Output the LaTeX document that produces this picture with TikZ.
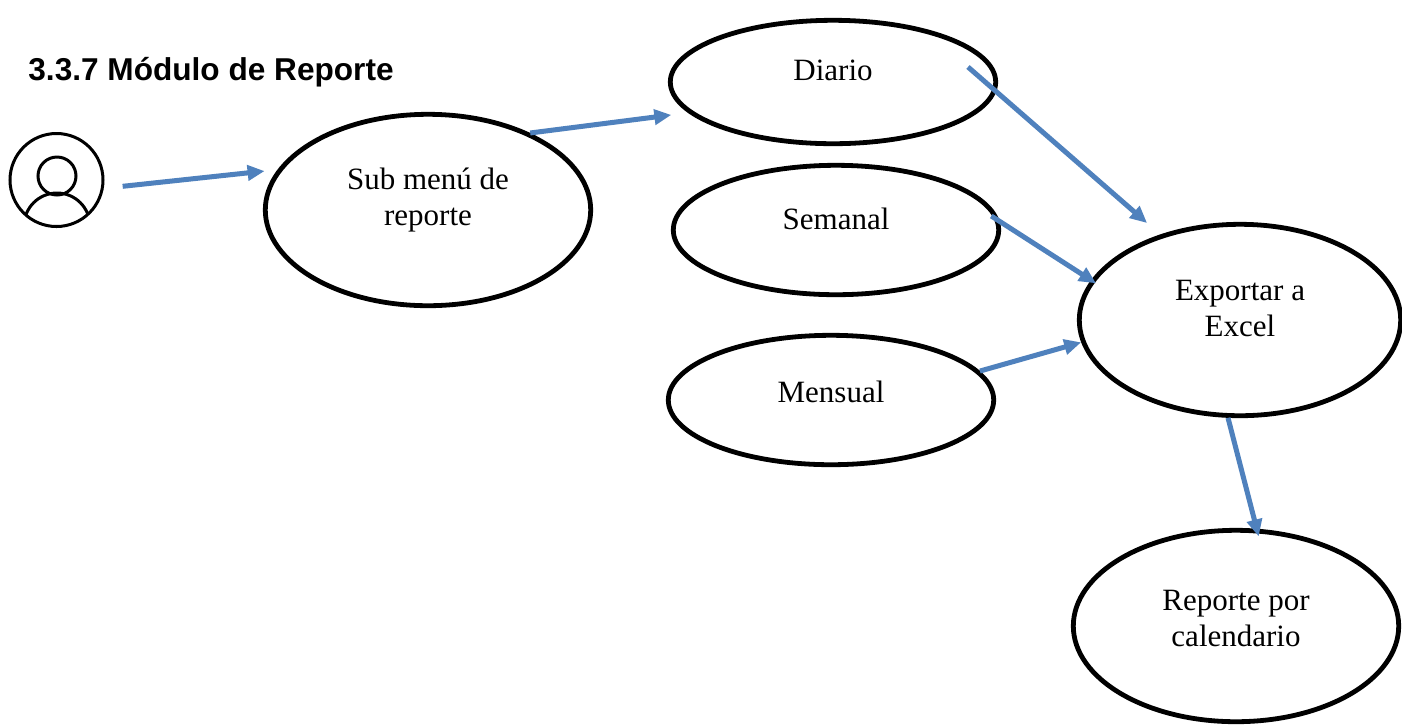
\documentclass[tikz,border=0pt]{standalone}
\usepackage{fontspec}
\setmainfont{Liberation Serif}
\newfontfamily\titlefont{Liberation Sans}
\usetikzlibrary{arrows.meta,shapes.geometric}
\definecolor{flechaazul}{RGB}{79,129,189}

\begin{document}
\begin{tikzpicture}[x=0.5pt,y=-0.5pt,
  usecase/.style={ellipse, draw, line width=2.4pt, inner sep=0pt, minimum width=162.7pt},
  lbl/.style={align=center, font=\fontsize{15.5}{18}\selectfont},
  flecha/.style={draw=flechaazul, line width=2.5pt, -{Triangle[length=8.5pt,width=7.5pt]}}]
\useasboundingbox[fill=white] (0,0) rectangle (1402,725);

\node[anchor=base west, inner xsep=0pt, font=\titlefont\bfseries\fontsize{15.8}{18}\selectfont] (titulo) at (28,80) {3.3.7 Módulo de Reporte};

% actor
\node[circle, draw, line width=1.5pt, minimum size=46.5pt, inner sep=0pt] (user) at (56.5,180) {};
\draw[line width=1.5pt] (57,176) circle[radius=9.5pt];
\begin{scope}
\clip (user.center) circle[radius=23.25pt];
\draw[line width=1.5pt] (57,226) circle[radius=16.5pt];
\end{scope}

% casos de uso
\node[usecase, minimum height=95.7pt, label={[lbl, yshift=5pt]center:Sub menú de\\reporte}] (sub) at (428,210) {};
\node[usecase, minimum height=61.7pt, label={[lbl, yshift=6pt]center:Diario}] (diario) at (833,82) {};
\node[usecase, minimum height=64.7pt, label={[lbl, yshift=5.5pt]center:Semanal}] (semanal) at (836,230) {};
\node[usecase, minimum height=64.7pt, label={[lbl, yshift=4pt]center:Mensual}] (mensual) at (831,400) {};
\node[usecase, minimum width=160.7pt, minimum height=95.7pt, label={[lbl, yshift=6pt]center:Exportar a\\Excel}] (export) at (1240,320) {};
\node[usecase, minimum height=95.7pt, label={[lbl, yshift=4pt]center:Reporte por\\calendario}] (reporte) at (1236,626) {};

% flechas
\draw[flecha, shorten <=9.5pt, shorten >=6.5pt] (user.-10) -- (sub.165);
\draw[flecha, shorten >=8.5pt] (sub.37) -- (diario.192);
\draw[flecha, shorten >=8.7pt] ([shift={(135,-15)}]diario.center) -- (export.133);
\draw[flecha, shorten <=-5pt, shorten >=-3pt] (semanal.3) -- (export.165);
\draw[flecha] (mensual.11) -- (export.188);
\draw[flecha, shorten >=-4pt] (export.263) -- (reporte.78);
\end{tikzpicture}
\end{document}
